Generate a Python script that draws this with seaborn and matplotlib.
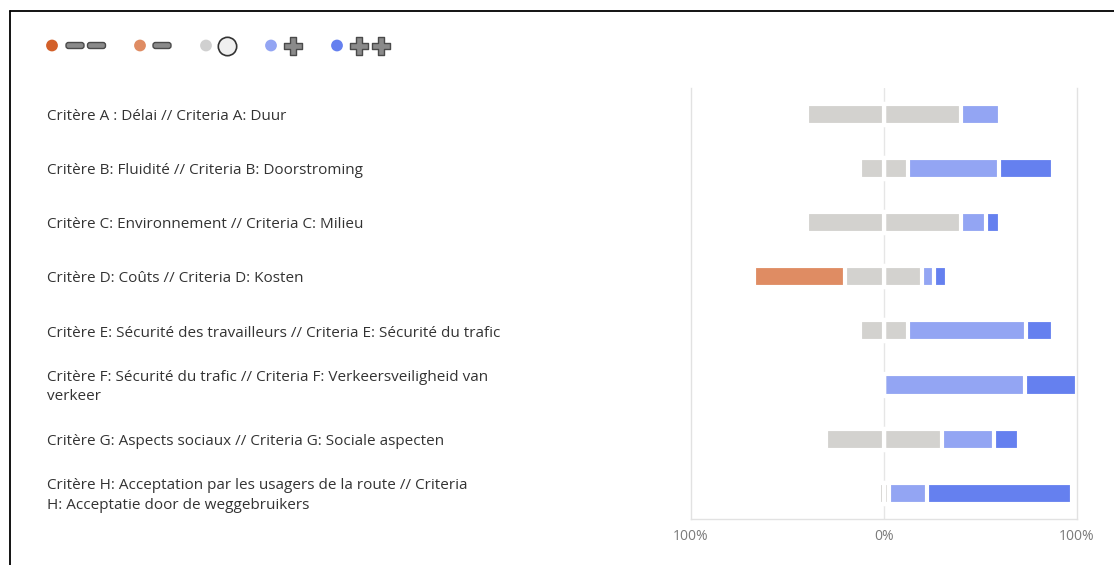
"""Diverging stacked bar chart of criteria scores (neutral split around 0)."""

import matplotlib

matplotlib.use("Agg")

import matplotlib.pyplot as plt
import matplotlib.transforms as mtransforms
import pandas as pd
import seaborn as sns
from matplotlib.lines import Line2D
from matplotlib.patches import FancyBboxPatch

criteria = [
    "Critère A : Délai // Criteria A: Duur",
    "Critère B: Fluidité // Criteria B: Doorstroming",
    "Critère C: Environnement // Criteria C: Milieu",
    "Critère D: Coûts // Criteria D: Kosten",
    "Critère E: Sécurité des travailleurs // Criteria E: Sécurité du trafic",
    "Critère F: Sécurité du trafic // Criteria F: Verkeersveiligheid van\nverkeer",
    "Critère G: Aspects sociaux // Criteria G: Sociale aspecten",
    "Critère H: Acceptation par les usagers de la route // Criteria\nH: Acceptatie door de weggebruikers",
]

# share of answers (%) per score
very_negative = [0, 0, 0, 0, 0, 0, 0, 0]
negative = [0, 0, 0, 47, 0, 0, 0, 0]
neutral = [80, 25, 80, 40, 25, 0, 60, 5]
positive = [20, 47, 13, 6, 61, 73, 27, 20]
very_positive = [0, 28, 7, 7, 14, 27, 13, 75]

tick_values = [-100, 0, 100]
tick_labels = ["100%", "0%", "100%"]

colors = {
    "--": "#D3602A",
    "-": "#DF8C63",
    "0": "#D3D2CF",
    "+": "#93A5F3",
    "++": "#6580EF",
}

sns.set_theme(style="white")
plt.rcParams["font.family"] = ["Open Sans", "DejaVu Sans"]

df = pd.DataFrame(
    {
        "criterion": criteria,
        "vneg": very_negative,
        "neg": negative,
        "neu": neutral,
        "pos": positive,
        "vpos": very_positive,
    }
)
half = df["neu"] / 2
df["r_neu"] = half
df["r_pos"] = half + df["pos"]
df["r_vpos"] = df["r_pos"] + df["vpos"]
df["l_neu"] = -half
df["l_neg"] = -(half + df["neg"])
df["l_vneg"] = df["l_neg"] - df["vneg"]

W, H = 1114, 565
fig = plt.figure(figsize=(W / 100, H / 100), dpi=100)
ax = fig.add_axes([690.7 / W, 1 - 519 / H, (1076.7 - 690.7) / W, (519 - 88) / H])

ax.axvline(0, color="#e6e6e6", lw=1, zorder=0)

# farthest segment first, nearer ones drawn over it
layers = [
    ("r_vpos", "++"),
    ("r_pos", "+"),
    ("r_neu", "0"),
    ("l_vneg", "--"),
    ("l_neg", "-"),
    ("l_neu", "0"),
]
for col, key in layers:
    sns.barplot(
        data=df,
        x=col,
        y="criterion",
        orient="y",
        color=colors[key],
        saturation=1,
        width=0.39,
        edgecolor="white",
        linewidth=3,
        errorbar=None,
        ax=ax,
    )

ax.set_xlim(-100, 100)
ax.set_ylim(7.475, -0.486)
ax.set_xticks(tick_values)
ax.set_xticklabels(tick_labels)
ax.tick_params(axis="x", length=0, pad=7, labelsize=10, labelcolor="#7a7a7a")
ax.set_yticks([])
ax.set_xlabel("")
ax.set_ylabel("")
for side in ("left", "right", "bottom"):
    ax.spines[side].set_color("#e2e2e2")
    ax.spines[side].set_linewidth(1)
ax.spines["top"].set_visible(False)

trans = mtransforms.blended_transform_factory(fig.transFigure, ax.transData)
for i, label in enumerate(criteria):
    ax.text(47 / W, i + 0.04, label, transform=trans, ha="left", va="center",
            fontsize=11, color="#333333", linespacing=1.42, clip_on=False)

# legend drawn in pixel coordinates
lax = fig.add_axes([0, 0, 1, 1], zorder=-1)
lax.set_xlim(0, W)
lax.set_ylim(H, 0)
lax.axis("off")
ly = 45.5
glyph_face = "#8a8a8a"
glyph_edge = "#4a4a4a"


def minus_glyph(x0):
    lax.add_patch(FancyBboxPatch((x0, ly - 3), 18, 6,
                                 boxstyle="round,pad=0,rounding_size=2.5",
                                 fc=glyph_face, ec=glyph_edge, lw=1.0))


dots = [(52, "--"), (140, "-"), (206, "0"), (271, "+"), (337, "++")]
for x, key in dots:
    lax.scatter([x], [ly], s=72, color=colors[key] if key != "0" else "#D0D0D0",
                edgecolors="none")
minus_glyph(66)
minus_glyph(87.5)
minus_glyph(153)
lax.scatter([227.3], [ly], s=175, facecolor="#f0f0f0", edgecolors="#333333", linewidths=1.2)
for x in (293.3, 359, 380.7):
    lax.scatter([x], [ly], s=180, marker="P", facecolor=glyph_face,
                edgecolors=glyph_edge, linewidths=1.0)

# screenshot frame (top and left edges)
fig.add_artist(Line2D([10 / W, 1], [1 - 11 / H, 1 - 11 / H], color="black", lw=1.3))
fig.add_artist(Line2D([10 / W, 10 / W], [0, 1 - 11 / H], color="black", lw=1.3))

fig.savefig("out.png", dpi=100, facecolor="white")
